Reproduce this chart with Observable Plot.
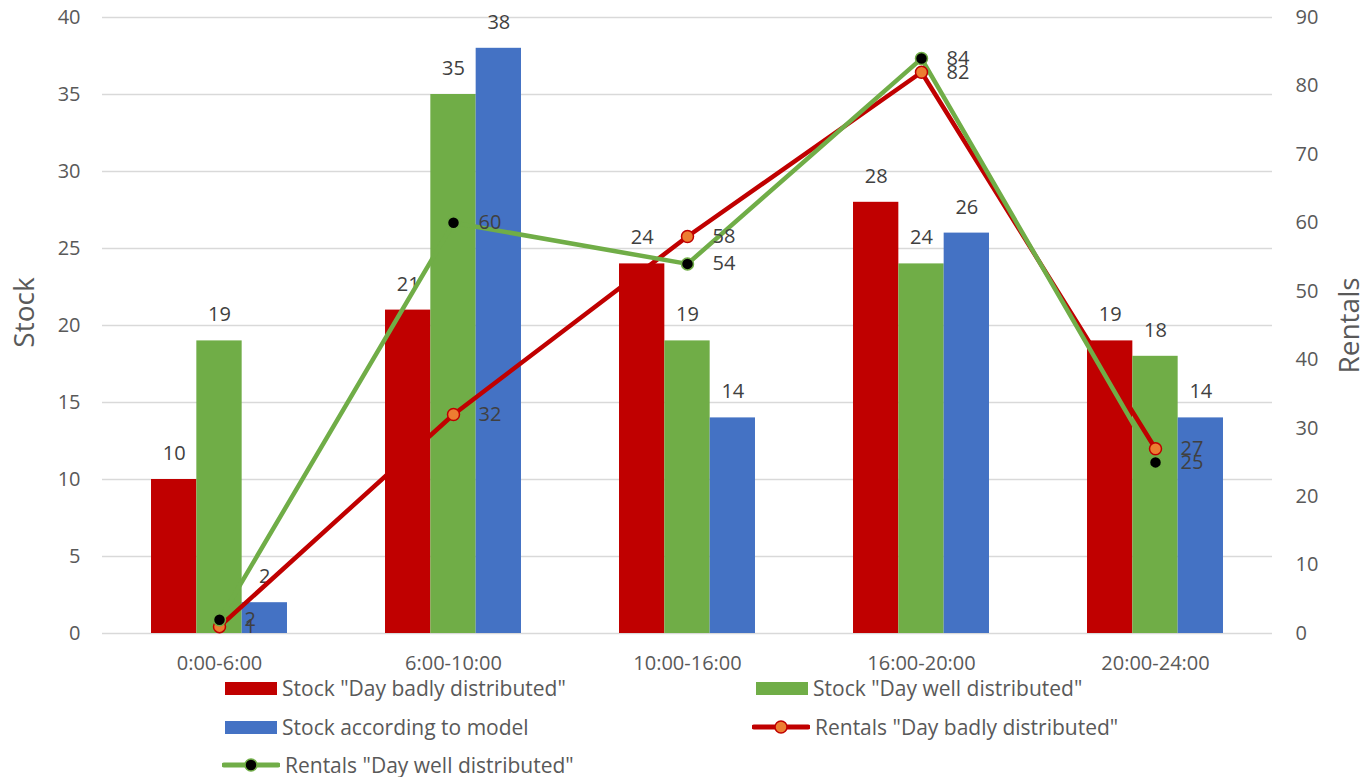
<!DOCTYPE html>
<html>
<head>
<meta charset="utf-8">
<script src="https://cdn.jsdelivr.net/npm/d3@7"></script>
<script src="https://cdn.jsdelivr.net/npm/@observablehq/plot@0.6"></script>
<style>
  html, body { margin: 0; padding: 0; background: #fff; }
  #wrap { position: relative; width: 1368px; height: 777px; font-family: "Open Sans", sans-serif; }
  #wrap > svg { position: absolute; left: 0; top: 0; }
  .leg { position: absolute; display: flex; align-items: center; font-size: 21px; color: #595959; white-space: nowrap; height: 30px; }
  .leg svg { margin-right: 5px; }
</style>
</head>
<body>
<div id="wrap"></div>
<script>
const categories = ["0:00-6:00", "6:00-10:00", "10:00-16:00", "16:00-20:00", "20:00-24:00"];
const stockBad = [10, 21, 24, 28, 19];
const stockWell = [19, 35, 19, 24, 18];
const stockModel = [2, 38, 14, 26, 14];
const rentalsBad = [1, 32, 58, 82, 27];
const rentalsWell = [2, 60, 54, 84, 25];
const stockTicks = [0, 5, 10, 15, 20, 25, 30, 35, 40];
const rentalTicks = [0, 10, 20, 30, 40, 50, 60, 70, 80, 90];
const seriesNames = ['Stock "Day badly distributed"', 'Stock "Day well distributed"', 'Stock according to model', 'Rentals "Day badly distributed"', 'Rentals "Day well distributed"'];

const RED = "#C00000", GREEN = "#70AD47", BLUE = "#4472C4", ORANGE = "#ED7D31";
const W = 1368, H = 680, ML = 102, MR = 96, MT = 17, MB = 47;
const bw = (W - ML - MR) / categories.length;
const barW = bw * 0.1937;
const g0 = (bw - 3 * barW) / 2;
const ratio = 40 / 90;

const rows = (vals) => categories.map((c, i) => ({cat: c, v: vals[i]}));
const sb = rows(stockBad), sw = rows(stockWell), sm = rows(stockModel);
const rb = rows(rentalsBad), rw = rows(rentalsWell);

const labelStyle = {fill: "#404040", fontSize: 20};

const chart = Plot.plot({
  width: W, height: H,
  marginLeft: ML, marginRight: MR, marginTop: MT, marginBottom: MB,
  style: {fontFamily: "Open Sans, sans-serif", fontSize: "20px", color: "#595959", background: "transparent"},
  x: {type: "band", domain: categories, padding: 0, label: null},
  y: {domain: [0, 40], label: null},
  marks: [
    Plot.ruleY(stockTicks, {stroke: "#d9d9d9", strokeWidth: 1.5}),
    Plot.axisY(stockTicks, {tickSize: 0, tickPadding: 22, label: null, fill: "#595959", fontSize: 20}),
    Plot.text(rentalTicks, {y: d => d * ratio, text: d => String(d), frameAnchor: "right", textAnchor: "start", dx: 23, fill: "#595959", fontSize: 20}),
    Plot.axisX({tickSize: 0, tickPadding: 22, label: null, fill: "#595959", fontSize: 20}),
    Plot.text(["Stock"], {frameAnchor: "left", textAnchor: "middle", rotate: -90, dx: -77, dy: -13, fill: "#595959", fontSize: 28}),
    Plot.text(["Rentals"], {frameAnchor: "right", textAnchor: "middle", rotate: -90, dx: 78, fill: "#595959", fontSize: 28}),
    Plot.barY(sb, {x: "cat", y: "v", fill: RED, insetLeft: g0, insetRight: bw - g0 - barW}),
    Plot.barY(sw, {x: "cat", y: "v", fill: GREEN, insetLeft: g0 + barW, insetRight: g0 + barW}),
    Plot.barY(sm, {x: "cat", y: "v", fill: BLUE, insetLeft: g0 + 2 * barW, insetRight: g0}),
    Plot.text(sb, {x: "cat", y: "v", text: "v", dx: -barW, dy: -26, ...labelStyle}),
    Plot.text(sw, {x: "cat", y: "v", text: "v", dx: 0, dy: -26, ...labelStyle}),
    Plot.text(sm, {x: "cat", y: "v", text: "v", dx: barW, dy: -26, ...labelStyle}),
    Plot.line(rb, {x: "cat", y: d => d.v * ratio, stroke: RED, strokeWidth: 4.5}),
    Plot.line(rw, {x: "cat", y: d => d.v * ratio, stroke: GREEN, strokeWidth: 4.5}),
    Plot.dot(rb, {x: "cat", y: d => d.v * ratio, r: 6, fill: ORANGE, stroke: RED, strokeWidth: 1.5}),
    Plot.dot(rw, {x: "cat", y: d => d.v * ratio, r: 6, fill: "black", stroke: GREEN, strokeWidth: 1.5}),
    Plot.text(rb, {x: "cat", y: d => d.v * ratio, text: "v", dx: 25, textAnchor: "start", ...labelStyle}),
    Plot.text(rw, {x: "cat", y: d => d.v * ratio, text: "v", dx: 25, textAnchor: "start", ...labelStyle})
  ]
});
const wrap = document.getElementById("wrap");
wrap.appendChild(chart);

function swatchRect(color) {
  return `<svg width="52" height="13"><rect width="52" height="13" fill="${color}"/></svg>`;
}
function swatchLine(line, fill) {
  return `<svg width="58" height="16"><line x1="2" y1="8" x2="56" y2="8" stroke="${line}" stroke-width="5" stroke-linecap="round"/><circle cx="29" cy="8" r="6" fill="${fill}" stroke="${line}" stroke-width="1.5"/></svg>`;
}
const legendItems = [
  {x: 225, y: 688, sw: swatchRect(RED), name: seriesNames[0]},
  {x: 756, y: 688, sw: swatchRect(GREEN), name: seriesNames[1]},
  {x: 225, y: 727, sw: swatchRect(BLUE), name: seriesNames[2]},
  {x: 752, y: 727, sw: swatchLine(RED, ORANGE), name: seriesNames[3]},
  {x: 222, y: 765, sw: swatchLine(GREEN, "black"), name: seriesNames[4]}
];
for (const it of legendItems) {
  const d = document.createElement("div");
  d.className = "leg";
  d.style.left = it.x + "px";
  d.style.top = (it.y - 15) + "px";
  d.innerHTML = it.sw + `<span>${it.name}</span>`;
  wrap.appendChild(d);
}
</script>
</body>
</html>
